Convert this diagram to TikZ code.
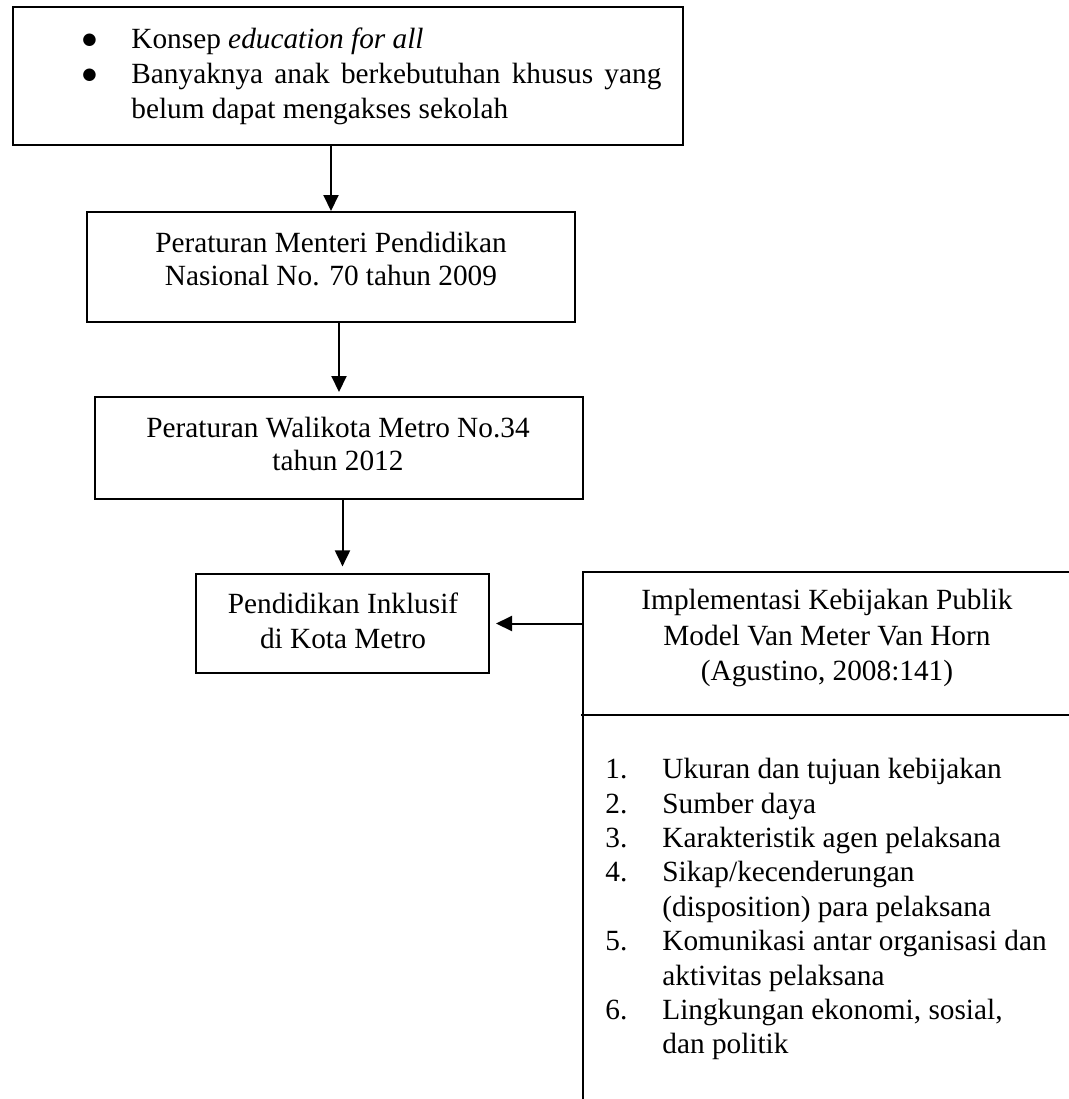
\documentclass[tikz,border=0pt]{standalone}
\usepackage{fontspec}
\setmainfont{Liberation Serif}
\newfontfamily\symfont{DejaVu Sans}
\newcommand{\bigbul}{\raisebox{1.6pt}{\symfont\fontsize{8.2pt}{8.2pt}\selectfont ●}}
\usetikzlibrary{arrows.meta}
\begin{document}
\begin{tikzpicture}[x=0.5pt,y=-0.5pt,
  box/.style={draw,line width=1pt,rectangle,inner sep=0pt},
  txt/.style={font=\fontsize{14.65pt}{16.2pt}\selectfont,inner sep=0pt,align=center},
  arr/.style={line width=1pt,-{Triangle[length=8pt,width=7.5pt]}},
  rule/.style={line width=1pt}]
\useasboundingbox (0,0) rectangle (1069,1099);
% boxes
\node[box,minimum width=335pt,minimum height=69pt] (b1) at (348,76) {};
\node[box,minimum width=244pt,minimum height=55pt] (b2) at (331,267) {};
\node[box,minimum width=244pt,minimum height=51pt] (b3) at (339,448) {};
\node[box,minimum width=146.5pt,minimum height=49.5pt] (b4) at (342.5,623.5) {};
% texts
\node[txt,align=left,anchor=west,font=\fontsize{14.65pt}{17.5pt}\selectfont] (b1t) at (82,76)
  {\makebox[24.5pt][l]{\bigbul}Konsep \textit{education for all}\\
   \makebox[24.5pt][l]{\bigbul}\makebox[265pt][s]{Banyaknya anak berkebutuhan khusus yang}\\
   \hspace*{24.5pt}belum dapat mengakses sekolah};
\node[txt] (b2t) at (331,259) {Peraturan Menteri Pendidikan\\Nasional No. 70 tahun 2009};
\node[txt] (b3t) at (338,444) {Peraturan Walikota Metro No.34\\tahun 2012};
\node[txt,font=\fontsize{14.65pt}{17.5pt}\selectfont] (b4t) at (343,620.5) {Pendidikan Inklusif\\di Kota Metro};
% right panel
\coordinate (pt) at (583,572);
\coordinate (pb) at (583,1099);
\coordinate (pr) at (1069,572);
\coordinate (dl) at (581,715);
\coordinate (dr) at (1069,715);
\draw[rule] (pr) -- (pt) -- (pb);
\draw[rule] (dl) -- (dr);
\node[txt,font=\fontsize{14.65pt}{17.9pt}\selectfont] (impl) at (827,638)
  {Implementasi Kebijakan Publik\\Model Van Meter Van Horn\\(Agustino, 2008:141)};
\node[txt,align=left,anchor=north west,font=\fontsize{14.65pt}{17.2pt}\selectfont] (list) at (605,758)
  {\makebox[28.5pt][l]{1.}Ukuran dan tujuan kebijakan\\
   \makebox[28.5pt][l]{2.}Sumber daya\\
   \makebox[28.5pt][l]{3.}Karakteristik agen pelaksana\\
   \makebox[28.5pt][l]{4.}Sikap/kecenderungan\\
   \hspace*{28.5pt}(disposition) para pelaksana\\
   \makebox[28.5pt][l]{5.}Komunikasi antar organisasi dan\\
   \hspace*{28.5pt}aktivitas pelaksana\\
   \makebox[28.5pt][l]{6.}Lingkungan ekonomi, sosial,\\
   \hspace*{28.5pt}dan politik};
% arrows
\draw[arr] (b1.south -| b2.north) -- (b2.north);
\draw[arr,shorten >=2pt] (b2.south -| b3.north) -- (b3.north);
\draw[arr,shorten >=3.3pt] (b3.south -| b4.north) -- (b4.north);
\draw[arr,shorten >=3pt] (b4.east -| pt) -- (b4.east);
\end{tikzpicture}
\end{document}
